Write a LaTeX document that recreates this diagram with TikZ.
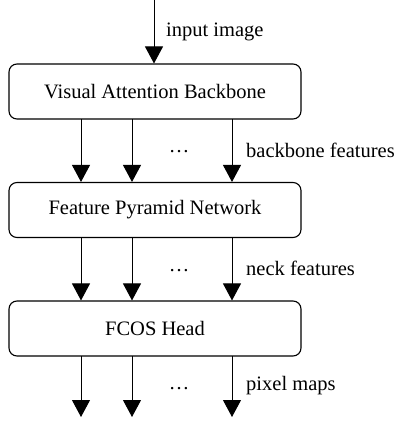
\documentclass[tikz,border=0pt]{standalone}
\usepackage{fontspec}
\setmainfont{Liberation Serif}
\usetikzlibrary{arrows.meta}
\begin{document}
\begin{tikzpicture}[x=1pt,y=-1pt,
  block/.style={draw, line width=1.1pt, rounded corners=8pt, minimum width=292pt, minimum height=55pt, inner sep=0pt, font=\fontsize{20.5}{22}\selectfont},
  flow/.style={line width=1pt, -{Triangle[length=17pt,width=18pt]}},
  lbl/.style={anchor=west, inner sep=0pt, font=\fontsize{20.5}{22}\selectfont},
  dots/.style={inner sep=0pt, font=\fontsize{20.5}{22}\selectfont}]
\useasboundingbox (0,0) rectangle (401,421);
\node[block] (vab) at (155,91.5) {Visual Attention Backbone};
\node[block] (fpn) at (155,210) {Feature Pyramid Network};
\node[block] (head) at (155,328.5) {FCOS Head};
\coordinate (in) at (154,0);
\draw[flow] (in) -- (in |- vab.north);
% three of the feature levels, the rest elided by dots
\foreach \x/\n in {81/a,132/b,232/c}{
  \coordinate (ta\n) at (\x,119);
  \coordinate (tb\n) at (\x,237);
  \coordinate (tc\n) at (\x,356);
  \coordinate (out\n) at (\x,417);
  \draw[flow] (ta\n) -- (ta\n |- fpn.north);
  \draw[flow] (tb\n) -- (tb\n |- head.north);
  \draw[flow] (tc\n) -- (out\n);
}
\node[lbl] (lin) at (166,32) {input image};
\node[lbl] (lbb) at (246,150) {backbone features};
\node[lbl] (lnk) at (246,268) {neck features};
\node[lbl] (lpx) at (246,386) {pixel maps};
\node[dots] (d1) at (179,152) {\dots};
\node[dots] (d2) at (179,271) {\dots};
\node[dots] (d3) at (179,389) {\dots};
\end{tikzpicture}
\end{document}
